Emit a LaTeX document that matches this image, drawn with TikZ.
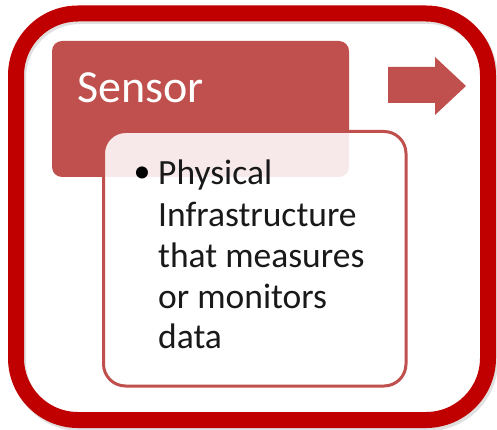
\documentclass[tikz,border=0pt]{standalone}
\usepackage{fontspec}
\setmainfont{Carlito}
\definecolor{frame}{HTML}{C00000}
\definecolor{accent}{HTML}{C0504D}
\begin{document}
\begin{tikzpicture}[x=1pt,y=-1pt,
  framebox/.style={draw=frame,line width=16pt,rounded corners=62pt},
  titlebox/.style={fill=accent,rounded corners=10pt},
  bodybox/.style={draw=accent,line width=3pt,fill=white,fill opacity=0.88,draw opacity=1,rounded corners=22pt},
  titletext/.style={text=white,font=\fontsize{46}{52}\selectfont,inner sep=0pt,anchor=base west},
  bodytext/.style={text=black!90,font=\fontsize{35.5}{40.75}\selectfont,inner sep=0pt,anchor=base west}]
\useasboundingbox (0,0) rectangle (497,430);
% shadow of frame
\draw[line width=16pt,rounded corners=62pt,draw=black,opacity=0.12] (18,16) rectangle (490,423);
\draw[framebox] (16,13.5) rectangle (488,420);
% title box
\fill[titlebox] (52,41) rectangle (349,177);
\node[titletext] (title) at (77,103) {Sensor};
% body box
\path[bodybox] (103.5,131.5) rectangle (406,386);
\node[text=black,font=\fontsize{34}{40}\selectfont,inner sep=0pt] (bullet) at (142,175) {•};
\node[bodytext] (l1) at (158,185) {Physical};
\node[bodytext] (l2) at (158,226) {Infrastructure};
\node[bodytext] (l3) at (158,267) {that measures};
\node[bodytext] (l4) at (158,308) {or monitors};
\node[bodytext] (l5) at (158,348) {data};
% arrow
\fill[accent] (388,67) -- (435,67) -- (435,57) -- (466,86) -- (435,115) -- (435,103) -- (388,103) -- cycle;
\end{tikzpicture}
\end{document}
